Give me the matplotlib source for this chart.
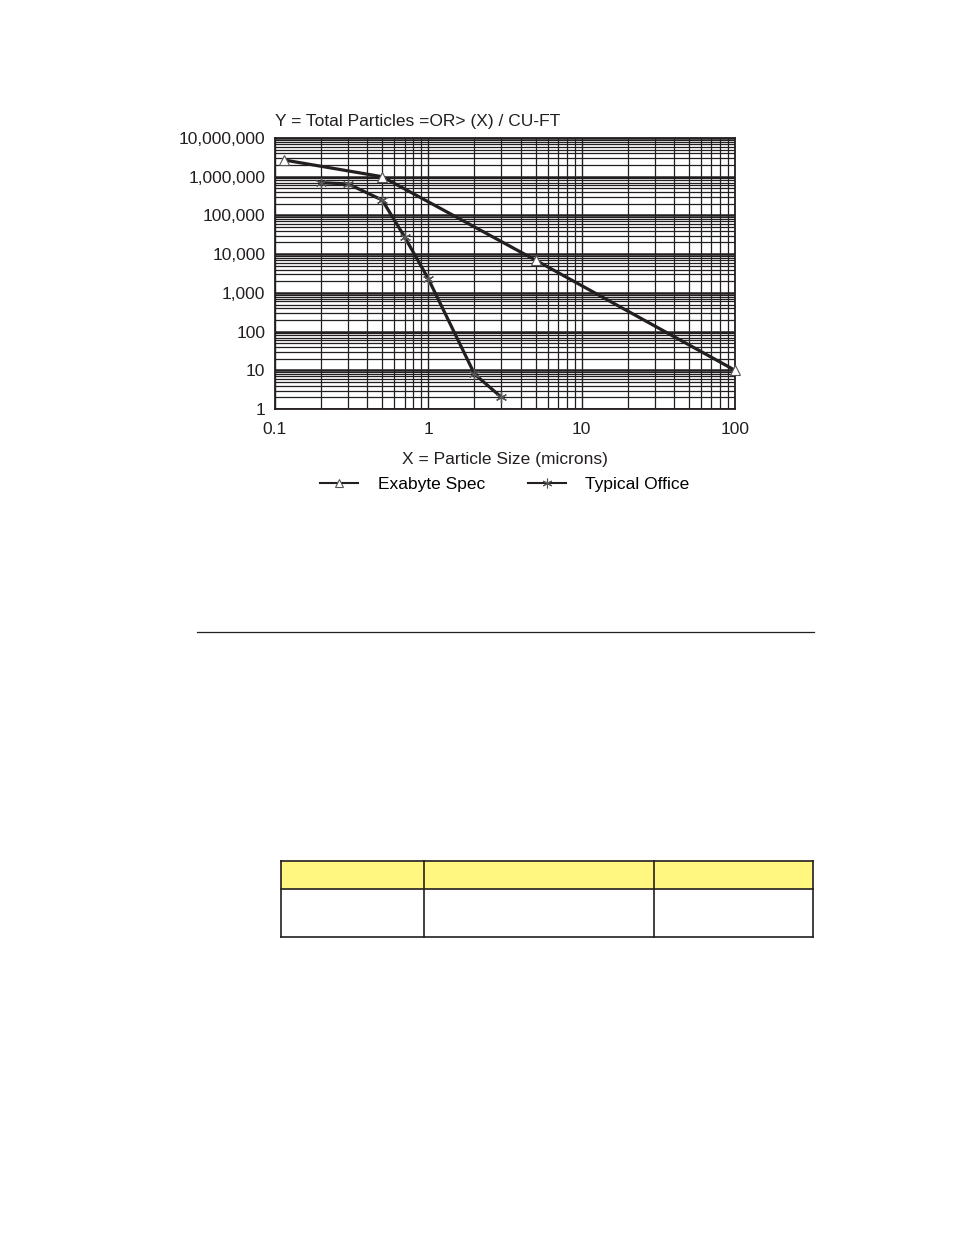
import matplotlib.pyplot as plt
from matplotlib.ticker import FixedLocator, NullFormatter
from matplotlib.lines import Line2D
from matplotlib.patches import Rectangle

plt.rcParams["font.family"] = ["Liberation Sans", "DejaVu Sans"]

# Particle counts
exabyte_x = [0.115, 0.5, 5, 100]
exabyte_y = [2.7e6, 1.0e6, 7.0e3, 10]

office_x = [0.2, 0.3, 0.5, 0.7, 1, 2, 3]
office_y = [7.0e5, 6.5e5, 2.5e5, 2.8e4, 2.3e3, 8, 2]

x_ticks = [0.1, 1, 10, 100]
x_labels = ["0.1", "1", "10", "100"]
y_ticks = [1, 10, 100, 1e3, 1e4, 1e5, 1e6, 1e7]
y_labels = ["1", "10", "100", "1,000", "10,000", "100,000", "1,000,000", "10,000,000"]

ink = "#231f20"
W, H = 954, 1235

fig = plt.figure(figsize=(W / 100, H / 100), dpi=100)
ax = fig.add_axes([275 / W, 1 - 409 / H, 460 / W, 271 / H])

ax.set_xscale("log")
ax.set_yscale("log")
ax.set_xlim(0.1, 100)
ax.set_ylim(1, 1e7)

ax.xaxis.set_major_locator(FixedLocator(x_ticks))
ax.yaxis.set_major_locator(FixedLocator(y_ticks))
ax.set_xticklabels(x_labels)
ax.set_yticklabels(y_labels)
minor_x = [m * d for d in [0.1, 1, 10] for m in range(2, 10)]
minor_y = [m * d for d in [1, 10, 100, 1e3, 1e4, 1e5, 1e6] for m in range(2, 10)]
ax.xaxis.set_minor_locator(FixedLocator(minor_x))
ax.yaxis.set_minor_locator(FixedLocator(minor_y))
ax.xaxis.set_minor_formatter(NullFormatter())
ax.yaxis.set_minor_formatter(NullFormatter())
ax.tick_params(which="both", length=0, labelsize=12.5, colors=ink)
ax.tick_params(axis="y", pad=7)
ax.tick_params(axis="x", pad=9)

ax.grid(which="minor", color=ink, lw=0.9)
ax.grid(which="major", axis="x", color=ink, lw=1.0)
ax.grid(which="major", axis="y", color=ink, lw=1.8)
for s in ax.spines.values():
    s.set_color(ink)
    s.set_linewidth(1.3)

ax.plot(exabyte_x, exabyte_y, color=ink, lw=2.3, marker="^", ms=7,
        mfc="white", mec="#555555", mew=0.8, clip_on=False, zorder=5,
        label="Exabyte Spec")
ax.plot(office_x, office_y, color=ink, lw=2.3, marker=(6, 2, 0), ms=8,
        mec="#555555", mew=0.9, clip_on=False, zorder=5,
        label="Typical Office")

ax.text(0.0, 1.035, "Y = Total Particles =OR> (X) / CU-FT", transform=ax.transAxes,
        fontsize=12.5, color=ink, ha="left", va="bottom")
ax.set_xlabel("X = Particle Size (microns)", fontsize=12.5, color=ink, labelpad=11)

handles = [
    Line2D([], [], color=ink, lw=1.5, marker="^", ms=6, mfc="white", mec="#555555", mew=0.8),
    Line2D([], [], color=ink, lw=1.5, marker=(6, 2, 0), ms=7, mec="#555555", mew=0.8),
]
ax.legend(handles, ["Exabyte Spec", "Typical Office"], loc="center",
          bbox_to_anchor=(0.5, -0.28), ncol=2, frameon=False, fontsize=12.5,
          handlelength=2.2, handletextpad=1.1, columnspacing=2.5)

# page rule and empty table below the chart
page = fig.add_axes([0, 0, 1, 1], zorder=-1)
page.set_xlim(0, W)
page.set_ylim(H, 0)
page.axis("off")
page.plot([197, 814], [632, 632], color=ink, lw=0.9)

col_edges = [281, 424, 654, 813]
row_edges = [861, 889, 937]
page.add_patch(Rectangle((281, 861), 813 - 281, 889 - 861, facecolor="#fff77f",
                         edgecolor="none"))
for x in col_edges:
    page.plot([x, x], [row_edges[0], row_edges[-1]], color=ink, lw=1.2)
for y in row_edges:
    page.plot([col_edges[0], col_edges[-1]], [y, y], color=ink, lw=1.2)

fig.savefig("out.png", dpi=100)
